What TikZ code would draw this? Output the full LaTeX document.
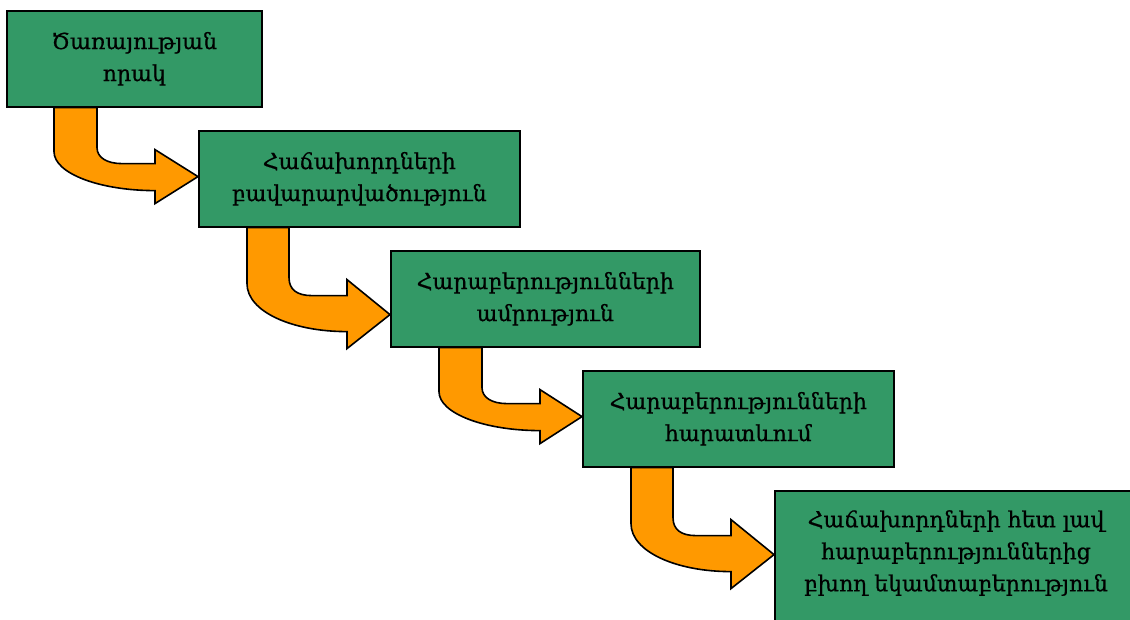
\documentclass[tikz,border=0pt]{standalone}
\usepackage{fontspec}
\setmainfont{DejaVu Serif}[FakeBold=0.7]
\usetikzlibrary{calc}
\definecolor{boxgreen}{RGB}{51,153,102}
\definecolor{arroworange}{RGB}{255,153,0}
\tikzset{
  labeltext/.style={align=center, font=\fontsize{22}{32}\selectfont},
  stagebox/.style={draw=black, line width=1.6pt, fill=boxgreen, anchor=north west,
    inner sep=0pt, labeltext},
  bentshape/.style={draw=black, line width=1.6pt, fill=arroworange, line join=miter},
}
\begin{document}
\begin{tikzpicture}[x=1pt, y=-1pt]
  \useasboundingbox (0,0) rectangle (1130,619);

  % stage boxes
  \node[stagebox, minimum width=255pt, minimum height=96pt] (b1) at (6,10)
    {Ծառայության\\որակ};
  \node[stagebox, minimum width=321pt, minimum height=96pt] (b2) at (198,130)
    {Հաճախորդների\\բավարարվածություն};
  \node[stagebox, minimum width=309pt, minimum height=96pt] (b3) at (390,250)
    {Հարաբերությունների\\ամրություն};
  \node[stagebox, minimum width=311pt, minimum height=96pt] (b4) at (582,370)
    {Հարաբերությունների\\հարատևում};
  % last box runs past the right and bottom edges of the page
  \node[stagebox, minimum width=420pt, minimum height=180pt] (b5) at (774,490) {};
  \node[labeltext] (t5) at (956,553)
    {Հաճախորդների հետ լավ\\հարաբերություններից\\բխող եկամտաբերություն};

  % short bent arrows: stem under the upper box, head at the next box
  \begin{scope}[shift={($(b1.south west)+(48,0)$)}]
    \path[bentshape] (0,0) -- (0,44) .. controls (0,66) and (46,83) .. (101,83)
      -- (101,96) -- (b2.west |- 0,69) -- (101,42) -- (101,56) -- (68,56)
      .. controls (53,56) and (43,50) .. (43,40) -- (43,0) -- cycle;
  \end{scope}
  \begin{scope}[shift={($(b3.south west)+(49,0)$)}]
    \path[bentshape] (0,0) -- (0,44) .. controls (0,66) and (46,83) .. (101,83)
      -- (101,96) -- (b4.west |- 0,69) -- (101,42) -- (101,56) -- (68,56)
      .. controls (53,56) and (43,50) .. (43,40) -- (43,0) -- cycle;
  \end{scope}

  % tall bent arrows
  \begin{scope}[shift={($(b2.south west)+(49,0)$)}]
    \path[bentshape] (0,0) -- (0,56) .. controls (0,84) and (45,104) .. (100,104)
      -- (100,121) -- (b3.west |- 0,87) -- (100,52) -- (100,68) -- (65,68)
      .. controls (50,68) and (42,62) .. (42,50) -- (42,0) -- cycle;
  \end{scope}
  \begin{scope}[shift={($(b4.south west)+(49,0)$)}]
    \path[bentshape] (0,0) -- (0,56) .. controls (0,84) and (45,104) .. (100,104)
      -- (100,121) -- (b5.west |- 0,87) -- (100,52) -- (100,68) -- (65,68)
      .. controls (50,68) and (42,62) .. (42,50) -- (42,0) -- cycle;
  \end{scope}
\end{tikzpicture}
\end{document}
